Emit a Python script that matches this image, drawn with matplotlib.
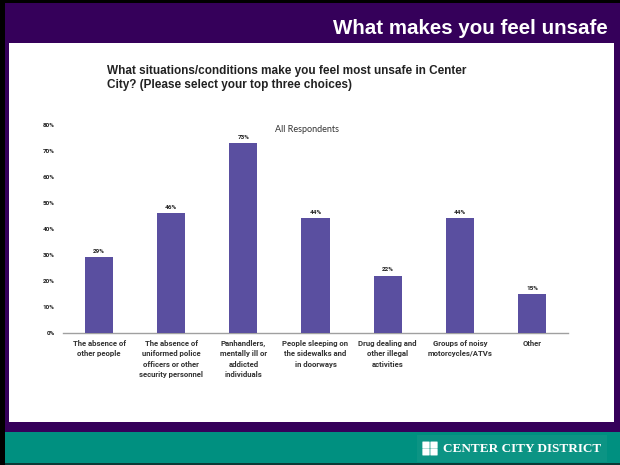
import matplotlib
matplotlib.use("Agg")
import matplotlib.pyplot as plt
from matplotlib.patches import Rectangle, FancyBboxPatch

categories = [
    "The absence of\nother people",
    "The absence of\nuniformed police\nofficers or other\nsecurity personnel",
    "Panhandlers,\nmentally ill or\naddicted\nindividuals",
    "People sleeping on\nthe sidewalks and\nin doorways",
    "Drug dealing and\nother illegal\nactivities",
    "Groups of noisy\nmotorcycles/ATVs",
    "Other",
]
values = [29, 46, 73, 44, 22, 44, 15]
yticks = [0, 10, 20, 30, 40, 50, 60, 70, 80]

W, H = 620, 465
fig = plt.figure(figsize=(6.2, 4.65), dpi=100)
fig.patch.set_facecolor("black")

def rect(x0, y0, x1, y1, color, z=0):
    fig.patches.append(Rectangle((x0 / W, 1 - y1 / H), (x1 - x0) / W, (y1 - y0) / H,
                                 transform=fig.transFigure, facecolor=color,
                                 edgecolor="none", zorder=z))

# frame layers
rect(5, 3, 620, 432, "#35005a", 0)
rect(9, 43, 614, 422, "white", 1)
rect(5, 432, 620, 463, "#009080", 1)
rect(5, 463, 620, 465, "#0a3a36", 1)
rect(417, 435, 607, 462, "#0c9484", 2)

fig.text(608 / W, 1 - 28 / H, "What makes you feel unsafe", color="white",
         fontsize=14.8, fontweight="bold", family="Liberation Sans",
         ha="right", va="center")

# footer logo
for (dx, dy) in [(0, 0), (8, 0), (0, 7), (8, 7)]:
    fig.patches.append(FancyBboxPatch(((423 + dx) / W, 1 - (442 + dy + 6) / H),
                                      6 / W, 6 / H, boxstyle="round,pad=0.001",
                                      transform=fig.transFigure, facecolor="white",
                                      edgecolor="none", zorder=3))
fig.text(443 / W, 1 - 449 / H, "CENTER CITY DISTRICT", color="white",
         fontsize=9.5, fontweight="bold", family="Liberation Serif",
         ha="left", va="center", zorder=4)

# question title
fig.text(107 / W, 1 - 78 / H,
         "What situations/conditions make you feel most unsafe in Center\nCity? (Please select your top three choices)",
         color="#222222", fontsize=8.5, fontweight="bold", family="Liberation Sans",
         ha="left", va="center", linespacing=1.25, zorder=5)

ax = fig.add_axes([63 / W, 1 - 332.7 / H, 505 / W, (332.7 - 125) / H])
ax.set_zorder(5)
ax.set_facecolor("white")
x = list(range(len(categories)))
ax.bar(x, values, width=0.39, color="#5a4fa0", zorder=3)
for xi, v in zip(x, values):
    ax.text(xi, v + 1.2, f"{v}%", ha="center", va="bottom", fontsize=4.6,
            fontweight="bold", color="#222222", family="Roboto")
ax.set_xlim(-0.5, len(categories) - 0.5)
ax.set_ylim(0, 80)
ax.set_yticks(yticks)
ax.set_yticklabels([f"{t}%" for t in yticks], fontsize=4.6, fontweight="bold",
                   color="#222222", family="Roboto")
ax.set_xticks(x)
ax.set_xticklabels(categories, fontsize=5.6, fontweight="bold", color="#333333",
                   linespacing=1.58, va="top", family="Roboto")
ax.tick_params(axis="x", length=0, pad=5)
ax.tick_params(axis="y", length=0, pad=6)
for s in ["top", "right", "left"]:
    ax.spines[s].set_visible(False)
ax.spines["bottom"].set_color("#a0a0a0")
ax.spines["bottom"].set_linewidth(1.0)

fig.text(307 / W, 1 - 129 / H, "All Respondents", ha="center", va="center",
         fontsize=6.5, color="#333333", family="Lato", zorder=6)

fig.savefig("out.png", dpi=100, facecolor=fig.get_facecolor())
